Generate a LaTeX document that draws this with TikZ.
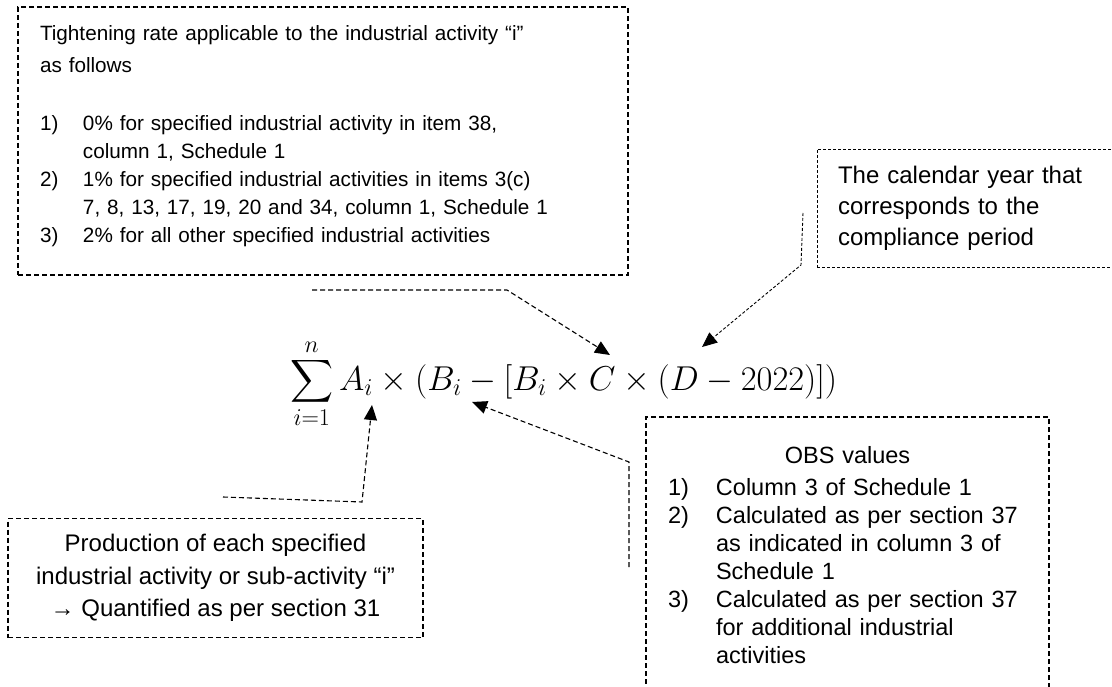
\RequirePackage{fix-cm}
\documentclass[tikz,border=0pt]{standalone}
\usepackage[no-math]{fontspec}
\setmainfont{Liberation Sans}
\usepackage{amsmath}
\usetikzlibrary{arrows.meta}

\newcommand{\bigsum}{\mathop{\vcenter{\hbox{\scalebox{1.2}{$\displaystyle\sum$}}}}\limits}

\begin{document}
\begin{tikzpicture}[
    x=1pt, y=-1pt,
    notebox/.style   = {rectangle, draw=black, line width=1.1pt,
                        dash pattern=on 5pt off 3pt, inner sep=0pt},
    ratebox/.style   = {notebox, minimum width=610pt, minimum height=268pt,
                        text width=566pt, align=left,
                        font=\fontsize{20.7pt}{28pt}\selectfont},
    yearbox/.style   = {notebox, dash pattern=on 3pt off 2pt, line width=0.9pt,
                        minimum width=303pt, minimum height=118pt,
                        text width=261pt, align=left,
                        font=\fontsize{24pt}{31pt}\selectfont},
    prodbox/.style   = {notebox, minimum width=415pt, minimum height=119pt,
                        align=center, font=\fontsize{24pt}{32.5pt}\selectfont},
    obsbox/.style    = {notebox, minimum width=403pt, minimum height=276pt,
                        text width=359pt, align=left,
                        font=\fontsize{23.5pt}{28pt}\selectfont},
    formula/.style   = {inner sep=0pt, anchor=base west,
                        font=\fontsize{34.5pt}{40pt}\selectfont},
    conn/.style      = {line width=1.1pt, draw=black,
                        dash pattern=on 5pt off 3pt,
                        -{Triangle[length=15pt, width=13pt]}},
    fineconn/.style  = {conn, dash pattern=on 3pt off 2pt, line width=0.9pt},
]

\useasboundingbox (0,0) rectangle (1112,687);

%% ============================================================
%% FORMULA
%% ============================================================
\node[formula] (eq) at (290,390)
    {$\displaystyle\bigsum_{i=1}^{n} A_i \times (B_i - [B_i \times C \times (D - 2022)])$};

%% ============================================================
%% NOTE BOXES
%% ============================================================
\node[ratebox] (rate) at (323,141)
    {Tightening rate applicable to the industrial activity “i”\\[4pt]
     as follows\\[30pt]
     \makebox[43pt][l]{1)}0\% for specified industrial activity in item 38,\\
     \hspace*{43pt}column 1, Schedule 1\\
     \makebox[43pt][l]{2)}1\% for specified industrial activities in items 3(c)\\
     \hspace*{43pt}7, 8, 13, 17, 19, 20 and 34, column 1, Schedule 1\\
     \makebox[43pt][l]{3)}2\% for all other specified industrial activities\rule[-14pt]{0pt}{0pt}};

\node[yearbox] (year) at (968.5,208)
    {The calendar year that\\ corresponds to the\\ compliance period};

\node[prodbox] (prod) at (215.5,578)
    {Production of each specified\\
     industrial activity or sub-activity “i”\\
     → Quantified as per section 31};

\node[obsbox] (obs) at (847.5,555)
    {\makebox[359pt]{OBS values}\\[4pt]
     \makebox[48pt][l]{1)}Column 3 of Schedule 1\\
     \makebox[48pt][l]{2)}Calculated as per section 37\\
     \hspace*{48pt}as indicated in column 3 of\\
     \hspace*{48pt}Schedule 1\\
     \makebox[48pt][l]{3)}Calculated as per section 37\\
     \hspace*{48pt}for additional industrial\\
     \hspace*{48pt}activities};

%% ============================================================
%% CONNECTOR END POINTS
%% ============================================================
\coordinate (rateTail) at (312,290);
\coordinate (rateBend) at (507,290);
\coordinate (tipC)     at (610,355);

\coordinate (yearTail) at (803,213);
\coordinate (yearBend) at (801,265);
\coordinate (tipD)     at (702,347);

\coordinate (prodTail) at (223,497);
\coordinate (prodBend) at (362,502);
\coordinate (tipA)     at (372,405);

\coordinate (obsTail)  at (629,567);
\coordinate (obsBend)  at (629,462);
\coordinate (tipB)     at (472,402);

%% ============================================================
%% CONNECTORS
%% ============================================================
\draw[conn]     (rateTail) -- (rateBend) -- (tipC);
\draw[fineconn] (yearTail) -- (yearBend) -- (tipD);
\draw[conn]     (prodTail) -- (prodBend) -- (tipA);
\draw[conn]     (obsTail)  -- (obsBend)  -- (tipB);

\end{tikzpicture}
\end{document}
